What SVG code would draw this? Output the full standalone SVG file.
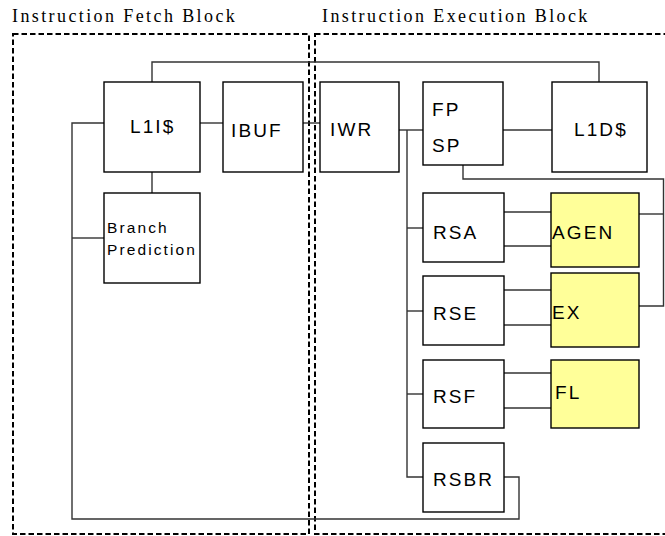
<svg xmlns="http://www.w3.org/2000/svg" width="665" height="536" viewBox="0 0 665 536">
<style>
.box{fill:#fff;stroke:#000;stroke-width:1.4}
.unit{fill:#ffff99;stroke:#000;stroke-width:1.4}
.blk{fill:none;stroke:#000;stroke-width:2;stroke-dasharray:5.5 3}
.con{fill:none;stroke:#333;stroke-width:1.4}
.lbl{font-family:"Liberation Sans",Arial,sans-serif;font-size:19px;letter-spacing:2.1px;fill:#000}
.sm{font-family:"Liberation Sans",Arial,sans-serif;font-size:15.5px;letter-spacing:2.1px;fill:#000}
.ttl{font-family:"Liberation Serif","Times New Roman",serif;font-size:18px;letter-spacing:2.4px;fill:#000}
</style>
<rect width="665" height="536" fill="#fff"/>
<g id="blocks">
<rect class="blk" x="13" y="34" width="296" height="500"/>
<rect class="blk" x="315" y="34" width="360" height="500"/>
<text class="ttl" x="12" y="22">Instruction Fetch Block</text>
<text class="ttl" x="322" y="22">Instruction Execution Block</text>
</g>
<g id="connectors">
<polyline class="con" points="152,82 152,62 599,62 599,82"/>
<line class="con" x1="200" y1="123" x2="223" y2="123"/>
<line class="con" x1="303" y1="123" x2="320" y2="123"/>
<line class="con" x1="152" y1="172" x2="152" y2="193"/>
<polyline class="con" points="104,123 72,123 72,519 519,519 519,477 504,477"/>
<line class="con" x1="72" y1="238" x2="104" y2="238"/>
<line class="con" x1="399" y1="130" x2="423" y2="130"/>
<line class="con" x1="503" y1="130" x2="552" y2="130"/>
<polyline class="con" points="407,130 407,477 423,477"/>
<line class="con" x1="407" y1="228" x2="423" y2="228"/>
<line class="con" x1="407" y1="311" x2="423" y2="311"/>
<line class="con" x1="407" y1="394" x2="423" y2="394"/>
<polyline class="con" points="463,165 463,179 663.5,179 663.5,306 639,306"/>
<line class="con" x1="639" y1="214" x2="663.5" y2="214"/>
<line class="con" x1="504" y1="212" x2="551" y2="212"/>
<line class="con" x1="504" y1="246" x2="551" y2="246"/>
<line class="con" x1="504" y1="290" x2="551" y2="290"/>
<line class="con" x1="504" y1="325" x2="551" y2="325"/>
<line class="con" x1="504" y1="373" x2="551" y2="373"/>
<line class="con" x1="504" y1="408" x2="551" y2="408"/>
</g>
<g id="L1I">
<rect class="box" x="104" y="82" width="96" height="90"/>
<text class="lbl" x="130" y="133">L1I$</text>
</g>
<g id="IBUF">
<rect class="box" x="223" y="82" width="80" height="90"/>
<text class="lbl" x="231" y="137">IBUF</text>
</g>
<g id="BranchPrediction">
<rect class="box" x="104" y="193" width="96" height="90"/>
<text class="sm" x="107" y="233">Branch</text>
<text class="sm" x="107" y="255">Prediction</text>
</g>
<g id="IWR">
<rect class="box" x="320" y="82" width="79" height="90"/>
<text class="lbl" x="330" y="136">IWR</text>
</g>
<g id="FPSP">
<rect class="box" x="423" y="82" width="80" height="83"/>
<text class="lbl" x="432" y="116">FP</text>
<text class="lbl" x="432" y="152">SP</text>
</g>
<g id="L1D">
<rect class="box" x="552" y="82" width="95" height="90"/>
<text class="lbl" x="574" y="136">L1D$</text>
</g>
<g id="RSA">
<rect class="box" x="423" y="193" width="81" height="69"/>
<text class="lbl" x="433" y="239">RSA</text>
</g>
<g id="AGEN">
<rect class="unit" x="551" y="193" width="88" height="74"/>
<text class="lbl" x="552" y="239">AGEN</text>
</g>
<g id="RSE">
<rect class="box" x="423" y="276" width="81" height="69"/>
<text class="lbl" x="433" y="320">RSE</text>
</g>
<g id="EX">
<rect class="unit" x="551" y="273" width="88" height="74"/>
<text class="lbl" x="552" y="319">EX</text>
</g>
<g id="RSF">
<rect class="box" x="423" y="360" width="81" height="68"/>
<text class="lbl" x="433" y="403">RSF</text>
</g>
<g id="FL">
<rect class="unit" x="551" y="360" width="88" height="68"/>
<text class="lbl" x="555" y="399">FL</text>
</g>
<g id="RSBR">
<rect class="box" x="423" y="443" width="81" height="69"/>
<text class="lbl" x="433" y="486">RSBR</text>
</g>
</svg>
